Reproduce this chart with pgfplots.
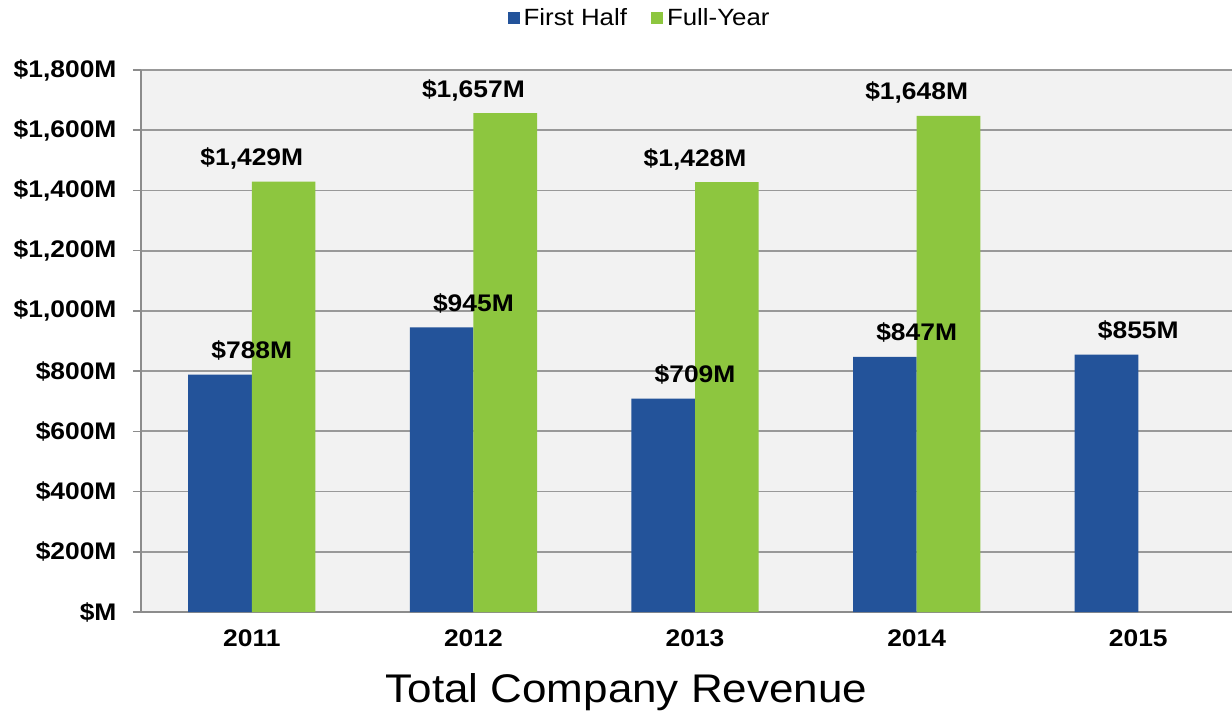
\documentclass[border=0pt]{standalone}
\usepackage{fontspec}
\setmainfont{Liberation Sans}[FakeStretch=1.1]
\usepackage{pgfplots}
\pgfplotsset{compat=1.18}
\definecolor{fhblue}{HTML}{23539A}
\definecolor{fygreen}{HTML}{8DC63F}
\definecolor{bggray}{HTML}{F2F2F2}
\definecolor{gridgray}{HTML}{999999}
\definecolor{axgray}{HTML}{8C8C8C}
\begin{document}
\begin{tikzpicture}
\useasboundingbox (-141bp,-107bp) rectangle (1091bp,612bp);
\begin{axis}[
  scale only axis,
  width=1091bp, height=542bp,
  xmin=-0.5, xmax=4.423,
  ymin=0, ymax=1800,
  axis x line*=bottom, axis y line*=left,
  axis line style={axgray, line width=1.6bp},
  axis background/.style={fill=bggray},
  ytick={0,200,...,1800},
  yticklabels={{\$M},{\$200M},{\$400M},{\$600M},{\$800M},{\$1,000M},{\$1,200M},{\$1,400M},{\$1,600M},{\$1,800M}},
  ymajorgrids,
  grid style={gridgray, line width=1.7bp},
  ytick style={axgray, line width=1.6bp},
  major tick length=8bp,
  tick align=outside,
  xtick={0,1,2,3,4},
  xticklabels={2011,2012,2013,2014,2015},
  xtick style={draw=none},
  minor xtick={-0.5,0.5,1.5,2.5,3.5},
  minor tick length=8bp,
  minor x tick style={axgray, line width=1.2bp},
  ticklabel style={font=\fontsize{24bp}{28bp}\selectfont\bfseries},
  yticklabel style={xshift=-13bp},
  xticklabel style={yshift=-6bp},
  ybar, bar width=0.287,
  nodes near coords,
  point meta=explicit symbolic,
  every node near coord/.style={anchor=base, yshift=16bp, font=\fontsize{24bp}{28bp}\selectfont\bfseries, text=black},
  legend style={at={(0.457,1.096)}, anchor=center, draw=none, fill=none,
    legend columns=2, font=\fontsize{23.5bp}{27bp}\selectfont,
    /tikz/every odd column/.append style={column sep=2bp},
    /tikz/every even column/.append style={column sep=22bp}},
  legend image code/.code={\fill[#1] (0bp,-6bp) rectangle (12bp,6bp);},
  clip=false,
]
\addplot[fill=fhblue, draw=none, bar shift=-0.1435] coordinates {
  (0,788) [\$788M]
  (1,945) [\$945M]
  (2,709) [\$709M]
  (3,847) [\$847M]
  (4,855) [\$855M]
};
\addplot[fill=fygreen, draw=none, bar shift=0.1435] coordinates {
  (0,1429) [\$1{,}429M]
  (1,1657) [\$1{,}657M]
  (2,1428) [\$1{,}428M]
  (3,1648) [\$1{,}648M]
};
\legend{First Half, Full-Year}
\end{axis}
\node[anchor=base, font=\fontsize{40bp}{46bp}\selectfont] at (485.5bp,-90bp) {Total Company Revenue};
\end{tikzpicture}
\end{document}
